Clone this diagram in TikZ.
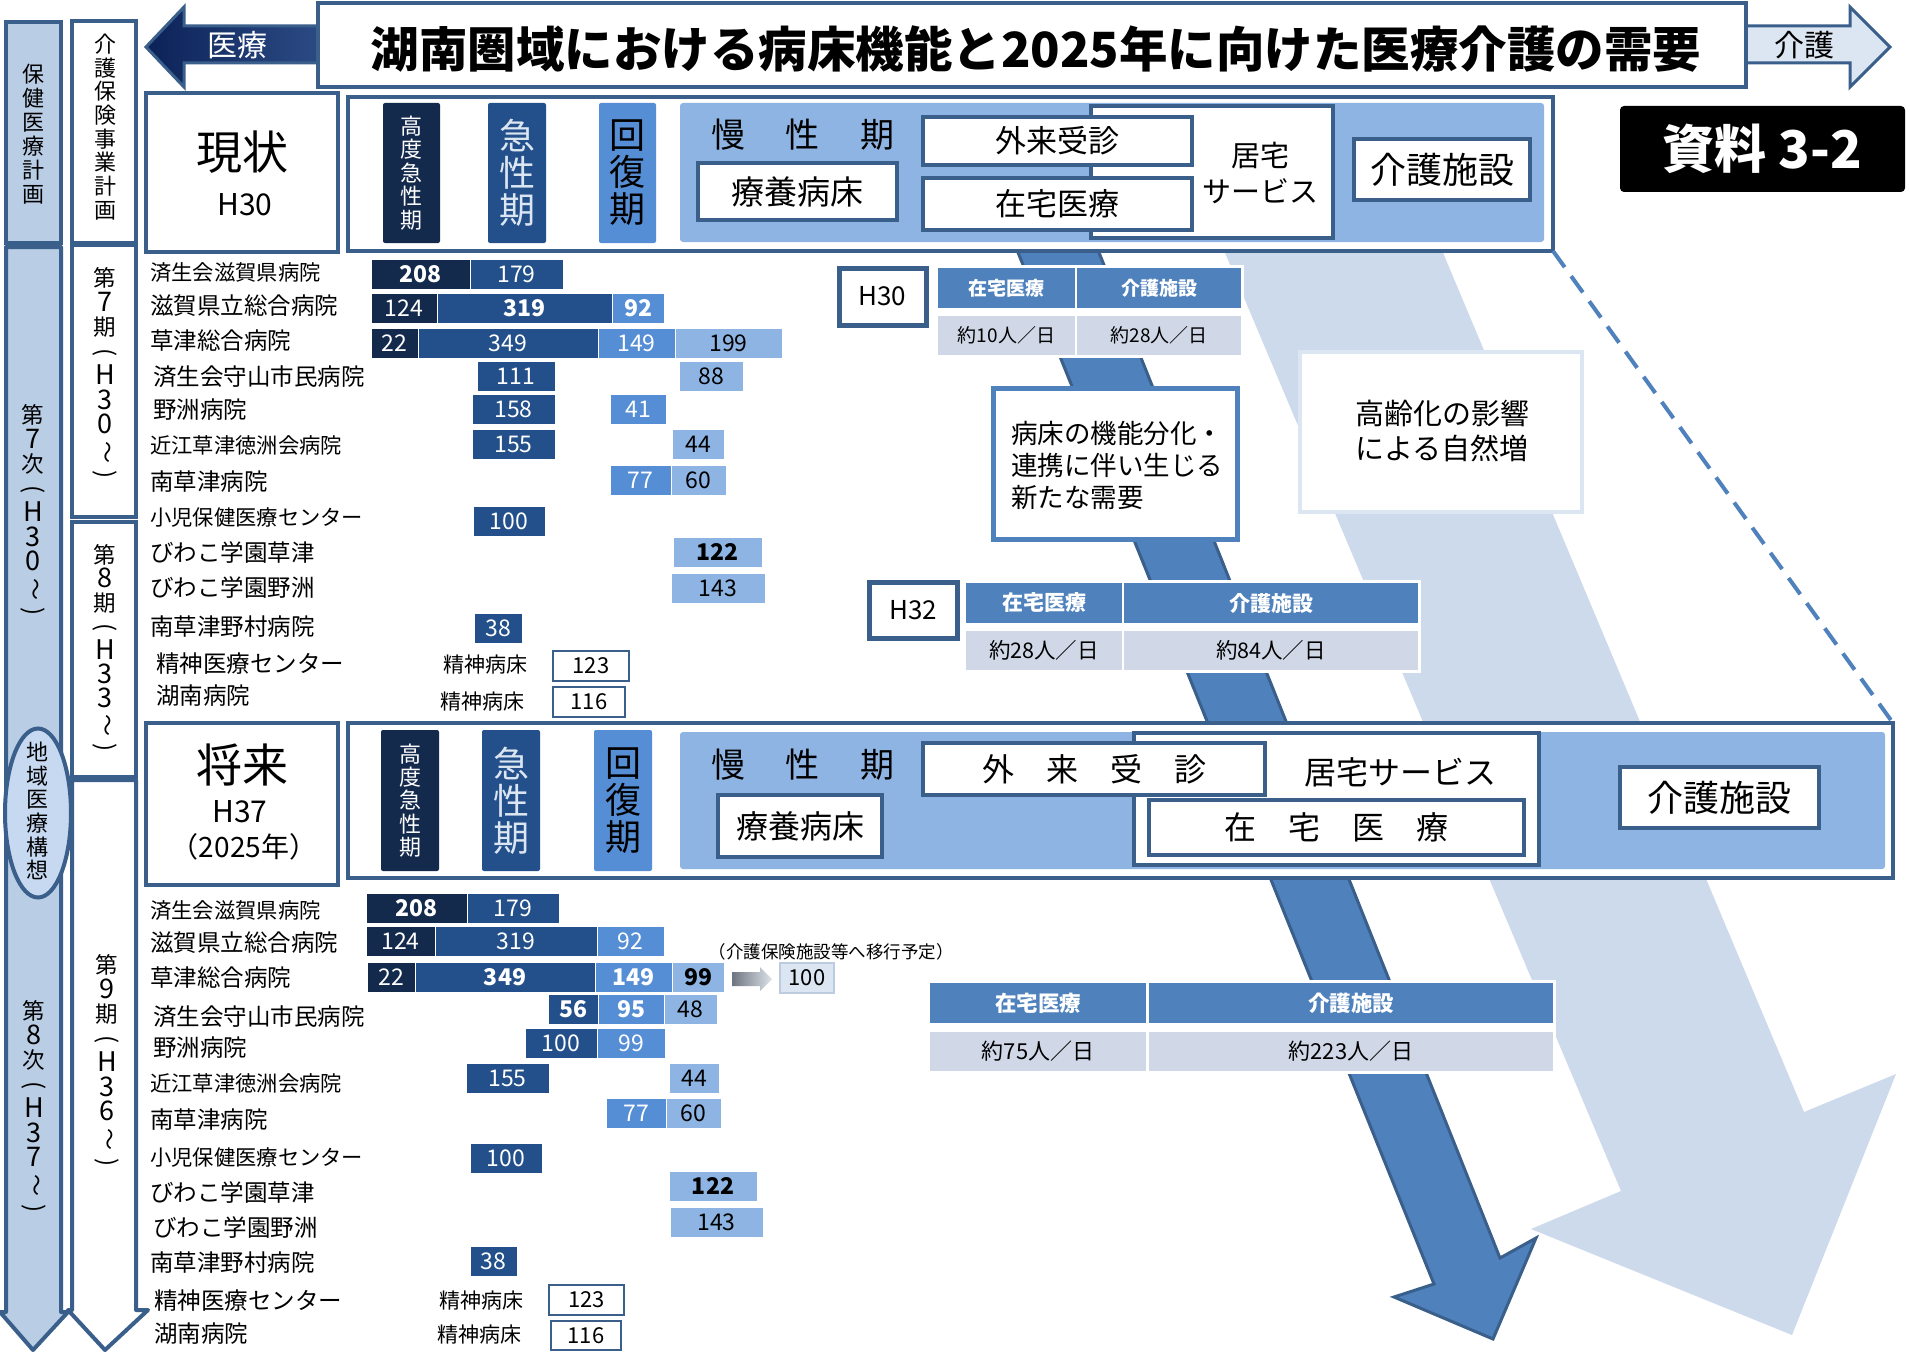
\documentclass[tikz,border=0pt]{standalone}
\usepackage{fontspec}
\usepackage{graphicx}
\setmainfont{Noto Sans CJK JP}
\usetikzlibrary{shapes.geometric}
\definecolor{bord}{HTML}{3A5F8B}
\definecolor{navy}{HTML}{142A4D}
\definecolor{acute}{HTML}{23508A}
\definecolor{recov}{HTML}{558ED5}
\definecolor{chron}{HTML}{8EB4E3}
\definecolor{colfill}{HTML}{B9CDE5}
\definecolor{thead}{HTML}{4F81BD}
\definecolor{tval}{HTML}{D0D8E8}
\definecolor{larrow}{HTML}{CCDAEB}
\definecolor{barrow}{HTML}{4F81BD}
\definecolor{paleb}{HTML}{DCE6F2}
\definecolor{ellfill}{HTML}{C6D9F1}
\definecolor{navyL}{HTML}{0B2257}
\definecolor{navyR}{HTML}{2B4A84}
\definecolor{gdark}{HTML}{6F7580}
\definecolor{glight}{HTML}{DDE3EA}
\newcommand\fs[2]{\fontsize{#1}{#2}\selectfont}
\newcommand\bx[7][]{\node[#1,minimum width={#5-#3},minimum height={#6-#4},inner sep=0pt,outer sep=0pt] (#2) at ({(#3+#5)/2},{(#4+#6)/2}) {#7};}
\newcommand\hb[7]{\node[barst,fill=#5,text=#6,minimum width={#3-#2}] (#1) at ({(#2+#3)/2},#4) {#7};}
\newcommand\vd[1]{{\fontsize{27}{23}\selectfont #1}}
\newcommand\vwv{\rotatebox[origin=c]{-90}{\fontsize{22}{23}\selectfont ～}}
\newcommand\vlp{\rotatebox[origin=c]{-90}{\fontsize{24}{23}\selectfont (}}
\newcommand\vrp{\rotatebox[origin=c]{-90}{\fontsize{24}{23}\selectfont )}}
\tikzset{
  barst/.style={minimum height=30pt,inner sep=0pt,outer sep=0pt,draw=white,line width=0.8pt,font=\fs{23}{24}},
  namest/.style={anchor=west,inner sep=0pt,font=\fs{23.5}{25}},
  namesm/.style={anchor=west,inner sep=0pt,font=\fs{21.3}{24}},
  frame/.style={draw=bord,line width=4.5pt,fill=white},
  wbox/.style={draw=bord,line width=4pt,fill=white},
  vtext/.style={align=center,inner sep=0pt,font=\fs{22.5}{24.5}},
  vbar/.style={align=center,rounded corners=2pt},
  th/.style={fill=thead,text=white},
  tv/.style={fill=tval,text=black},
  psy/.style={draw=bord,line width=2.5pt,fill=white,font=\fs{22}{24}},
  yr/.style={draw=bord,line width=5pt,fill=white},
}
\begin{document}
\begin{tikzpicture}[x=1pt,y=-1pt]
\useasboundingbox (0,0) rectangle (1910,1359);
\fill[white] (0,0) rectangle (1910,1359);
% ---------- big background arrows
\fill[larrow] (1223,248) -- (1621,1191) -- (1531,1229) -- (1792,1335) -- (1896,1074) -- (1804,1112) -- (1441,248) -- cycle;
\draw[fill=barrow,draw=bord,line width=3pt] (1015,245) -- (1434,1284) -- (1394,1297) -- (1493,1339) -- (1536,1238) -- (1500,1258) -- (1096,245) -- cycle;
% ---------- left columns
\bx[draw=bord,line width=4pt,fill=colfill]{c1a}{6}{22}{61}{243}{}
\node[vtext,font=\fs{22}{24}] (c1at) at (34,134) {保\\健\\医\\療\\計\\画};
\draw[draw=bord,line width=4pt,fill=colfill,line join=round] (6,247) -- (61,247) -- (61,1312) -- (68,1312) -- (33,1350) -- (0,1312) -- (6,1312) -- cycle;
\node[vtext] (c1bt) at (33,512) {第\\\vd{7}\\次\\\vlp\\\vd{H}\\\vd{3}\\\vd{0}\\\vwv\\\vrp};
\node[ellipse,draw=bord,line width=4pt,fill=ellfill,minimum width=66pt,minimum height=169pt,inner sep=0pt] (ell) at (38,813) {};
\node[vtext,font=\fs{22}{23.7}] (ellt) at (38,811) {地\\域\\医\\療\\構\\想};
\node[vtext] (c1ct) at (34,1108) {第\\\vd{8}\\次\\\vlp\\\vd{H}\\\vd{3}\\\vd{7}\\\vwv\\\vrp};
\bx[draw=bord,line width=4pt,fill=white]{c2a}{72}{21}{136}{243}{}
\node[vtext,font=\fs{22}{23.7}] (c2at) at (105,127) {介\\護\\保\\険\\事\\業\\計\\画};
\bx[draw=bord,line width=4pt,fill=white]{c2b}{72}{245}{136}{517}{}
\node[vtext] (c2bt) at (105,375) {第\\\vd{7}\\期\\\vlp\\\vd{H}\\\vd{3}\\\vd{0}\\\vwv\\\vrp};
\bx[draw=bord,line width=4pt,fill=white]{c2c}{72}{522}{136}{777}{}
\node[vtext,font=\fs{22.5}{24}] (c2ct) at (105,650) {第\\\vd{8}\\期\\\vlp\\\vd{H}\\\vd{3}\\\vd{3}\\\vwv\\\vrp};
\draw[draw=bord,line width=4pt,fill=white,line join=round] (72,780) -- (136,780) -- (136,1310) -- (148,1310) -- (105,1350) -- (68,1310) -- (72,1310) -- cycle;
\node[vtext] (c2dt) at (107,1062) {第\\\vd{9}\\期\\\vlp\\\vd{H}\\\vd{3}\\\vd{6}\\\vwv\\\vrp};
% ---------- header arrows and title
\shadedraw[left color=navyL,right color=navyR,draw=bord,line width=3pt] (318,26) -- (184,26) -- (184,7) -- (146,47) -- (184,87) -- (184,63) -- (318,63) -- cycle;
\node[text=white,font=\fs{30}{32}] (iryo) at (237,45) {医療};
\draw[fill=paleb,draw=bord,line width=3pt] (1746,26) -- (1850,26) -- (1850,7) -- (1890,47) -- (1850,87) -- (1850,63) -- (1746,63) -- cycle;
\node[font=\fs{30}{32}] (kaigo) at (1804,45) {介護};
\bx[draw=bord,line width=4.5pt,fill=white]{titlebox}{318}{3}{1746}{87}{}
\node[font=\fs{48.5}{50}\bfseries] (title) at (1036,49) {湖南圏域における病床機能と2025年に向けた医療介護の需要};
\bx[fill=black,rounded corners=4pt,text=white,font=\fs{52}{54}\bfseries]{shiryo}{1620}{106}{1905}{192}{資料 3-2}
% ---------- top panel
\bx[wbox]{now}{146}{93}{338}{252}{}
\node[font=\fs{46}{48}] (nowt) at (242,152) {現状};
\node[font=\fs{30}{32}] (nowh) at (245,205) {H30};
\bx[frame]{tp}{348}{97}{1553}{251}{}
\bx[fill=chron,rounded corners=3pt]{tpin}{680}{103}{1544}{242}{}
\bx[vbar,fill=navy,text=white,font=\fs{22}{23.4}]{tp1}{383}{103}{440}{243}{高\\度\\急\\性\\期}
\bx[vbar,fill=acute,text=paleb,font=\fs{36}{37}]{tp2}{488}{103}{546}{243}{急\\性\\期}
\bx[vbar,fill=recov,text=black,font=\fs{36}{37}]{tp3}{599}{103}{656}{243}{回\\復\\期}
\node[font=\fs{34}{36}] (tpm) at (803,135) {慢\hspace{41pt}性\hspace{41pt}期};
\bx[wbox,font=\fs{33}{35}]{tpr}{698}{163}{897}{220}{療養病床}
\bx[wbox]{tpk}{1091}{106}{1333}{238}{}
\bx[wbox,font=\fs{31}{33}]{tpg}{923}{117}{1192}{165}{外来受診}
\bx[wbox,font=\fs{31}{33}]{tpz}{923}{178}{1192}{230}{在宅医療}
\node[align=center,font=\fs{29}{36}] (tpkt) at (1260,173) {居宅\\サービス};
\bx[wbox,font=\fs{36}{38}]{tpc}{1354}{139}{1530}{200}{介護施設}
% ---------- bottom panel
\bx[wbox]{fut}{146}{723}{338}{885}{}
\node[font=\fs{46}{48}] (futt) at (242,765) {将来};
\node[font=\fs{30}{32}] (futh) at (240,812) {H37};
\node[font=\fs{28}{30}] (futy) at (244,847) {（2025年）};
\bx[frame]{lp}{348}{723}{1893}{878}{}
\bx[fill=chron,rounded corners=3pt]{lpin}{680}{732}{1885}{869}{}
\bx[vbar,fill=navy,text=white,font=\fs{22}{23.4}]{lp1}{381}{730}{439}{871}{高\\度\\急\\性\\期}
\bx[vbar,fill=acute,text=paleb,font=\fs{36}{37}]{lp2}{482}{730}{540}{871}{急\\性\\期}
\bx[vbar,fill=recov,text=black,font=\fs{36}{37}]{lp3}{594}{730}{652}{871}{回\\復\\期}
\node[font=\fs{34}{36}] (lpm) at (803,765) {慢\hspace{41pt}性\hspace{41pt}期};
\bx[wbox,font=\fs{32}{34}]{lpr}{718}{795}{882}{857}{療養病床}
\bx[wbox]{lpk}{1134}{733}{1539}{865}{}
\bx[wbox,font=\fs{32}{34}]{lpg}{923}{743}{1265}{795}{外　来　受　診}
\node[font=\fs{32}{34}] (lpkt) at (1400,772) {居宅サービス};
\bx[wbox,font=\fs{32}{34}]{lpz}{1149}{800}{1524}{855}{在　宅　医　療}
\bx[wbox,font=\fs{36}{38}]{lpc}{1620}{767}{1819}{828}{介護施設}
\draw[barrow,line width=4pt,dash pattern=on 20pt off 11pt] (tp.south east) -- (lp.north east);
% ---------- H30 table
\bx[yr,font=\fs{26}{28}]{h30}{839}{268}{926}{325}{H30}
\bx[fill=white]{t1bg}{935}{265}{1244}{358}{}
\bx[th,font=\fs{19}{20}\bfseries]{t1h1}{938}{268}{1075}{308}{在宅医療}
\bx[th,font=\fs{19}{20}\bfseries]{t1h2}{1077}{268}{1241}{308}{介護施設}
\bx[tv,font=\fs{19}{20}]{t1v1}{938}{316}{1075}{355}{約10人／日}
\bx[tv,font=\fs{19}{20}]{t1v2}{1077}{316}{1241}{355}{約28人／日}
% ---------- boxes
\bx[draw=barrow,line width=5pt,fill=white]{need}{993}{388}{1237}{539}{}
\node[anchor=west,align=left,inner sep=0pt,font=\fs{26.5}{32}] (needt) at (1011,465) {病床の機能分化・\\連携に伴い生じる\\新たな需要};
\bx[draw=paleb,line width=4pt,fill=white]{aging}{1300}{352}{1582}{512}{}
\node[align=left,inner sep=0pt,font=\fs{29}{35}] (agingt) at (1442,431) {高齢化の影響\\による自然増};
% ---------- H32 table
\bx[yr,font=\fs{26}{28}]{h32}{869}{582}{957}{638}{H32}
\bx[fill=white]{t2bg}{963}{580}{1421}{673}{}
\bx[th,font=\fs{21}{22}\bfseries]{t2h1}{966}{583}{1122}{623}{在宅医療}
\bx[th,font=\fs{21}{22}\bfseries]{t2h2}{1124}{583}{1418}{623}{介護施設}
\bx[tv,font=\fs{21.5}{22}]{t2v1}{966}{631}{1122}{670}{約28人／日}
\bx[tv,font=\fs{21.5}{22}]{t2v2}{1124}{631}{1418}{670}{約84人／日}
% ---------- lower table
\bx[fill=white]{t3bg}{927}{980}{1556}{1074}{}
\bx[th,font=\fs{21.5}{22}\bfseries]{t3h1}{930}{983}{1146}{1023}{在宅医療}
\bx[th,font=\fs{21.5}{22}\bfseries]{t3h2}{1149}{983}{1553}{1023}{介護施設}
\bx[tv,font=\fs{22}{23}]{t3v1}{930}{1032}{1146}{1071}{約75人／日}
\bx[tv,font=\fs{22}{23}]{t3v2}{1149}{1032}{1553}{1071}{約223人／日}
% ---------- top hospitals
\node[namesm] (a1) at (150,273) {済生会滋賀県病院};
\hb{a1a}{371}{470}{274}{navy}{white}{\bfseries 208}
\hb{a1b}{470}{563}{274}{acute}{white}{179}
\node[namest] (a2) at (150,306) {滋賀県立総合病院};
\hb{a2a}{371}{437}{308}{navy}{white}{124}
\hb{a2b}{437}{612}{308}{acute}{white}{\bfseries 319}
\hb{a2c}{612}{664}{308}{recov}{white}{\bfseries 92}
\node[namest] (a3) at (150,341) {草津総合病院};
\hb{a3a}{371}{418}{343}{navy}{white}{22}
\hb{a3b}{418}{598}{343}{acute}{white}{349}
\hb{a3c}{598}{675}{343}{recov}{white}{149}
\hb{a3d}{675}{782}{343}{chron}{black}{199}
\node[namest] (a4) at (153,377) {済生会守山市民病院};
\hb{a4a}{477}{555}{376}{acute}{white}{111}
\hb{a4b}{679}{743}{376}{chron}{black}{88}
\node[namest] (a5) at (153,410) {野洲病院};
\hb{a5a}{472}{555}{409}{acute}{white}{158}
\hb{a5b}{610}{666}{409}{recov}{white}{41}
\node[namesm] (a6) at (150,445) {近江草津徳洲会病院};
\hb{a6a}{472}{555}{444}{acute}{white}{155}
\hb{a6b}{672}{724}{444}{chron}{black}{44}
\node[namest] (a7) at (150,482) {南草津病院};
\hb{a7a}{610}{671}{480}{recov}{white}{77}
\hb{a7b}{671}{726}{480}{chron}{black}{60}
\node[namesm] (a8) at (150,517) {小児保健医療センター};
\hb{a8a}{473}{545}{521}{acute}{white}{100}
\node[namest] (a9) at (150,553) {びわこ学園草津};
\hb{a9a}{673}{762}{552}{chron}{black}{\bfseries 122}
\node[namest] (a10) at (150,588) {びわこ学園野洲};
\hb{a10a}{671}{765}{588}{chron}{black}{143}
\node[namest] (a11) at (150,627) {南草津野村病院};
\hb{a11a}{474}{522}{628}{acute}{white}{38}
\node[namest] (a12) at (156,664) {精神医療センター};
\node[font=\fs{21}{22}] (a12l) at (485,665) {精神病床};
\bx[psy]{a12a}{553}{651}{629}{681}{123}
\node[namest] (a13) at (156,696) {湖南病院};
\node[font=\fs{21}{22}] (a13l) at (482,702) {精神病床};
\bx[psy]{a13a}{553}{687}{625}{717}{116}
% ---------- bottom hospitals
\node[namesm] (b1) at (150,910) {済生会滋賀県病院};
\hb{b1a}{366}{467}{908}{navy}{white}{\bfseries 208}
\hb{b1b}{467}{559}{908}{acute}{white}{179}
\node[namest] (b2) at (150,943) {滋賀県立総合病院};
\hb{b2a}{366}{435}{941}{navy}{white}{124}
\hb{b2b}{435}{597}{941}{acute}{white}{319}
\hb{b2c}{597}{664}{941}{recov}{white}{92}
\node[namest] (b3) at (150,978) {草津総合病院};
\hb{b3a}{367}{415}{977}{navy}{white}{22}
\hb{b3b}{415}{595}{977}{acute}{white}{\bfseries 349}
\hb{b3c}{595}{672}{977}{recov}{white}{\bfseries 149}
\hb{b3d}{672}{724}{977}{chron}{black}{\bfseries 99}
\shade[left color=gdark,right color=glight] (732,972) -- (760,972) -- (760,967) -- (772,979) -- (760,991) -- (760,986) -- (732,986) -- cycle;
\bx[fill=paleb,draw=paleb!80!bord,line width=1.5pt,font=\fs{22}{23}]{b3m}{780}{963}{834}{993}{100}
\node[font=\fs{17.5}{19}] (b3n) at (831,952) {（介護保険施設等へ移行予定）};
\node[namest] (b4) at (153,1017) {済生会守山市民病院};
\hb{b4a}{548}{598}{1009}{acute}{white}{\bfseries 56}
\hb{b4b}{598}{664}{1009}{recov}{white}{\bfseries 95}
\hb{b4c}{664}{717}{1009}{chron}{black}{48}
\node[namest] (b5) at (153,1048) {野洲病院};
\hb{b5a}{525}{597}{1043}{acute}{white}{100}
\hb{b5b}{597}{665}{1043}{recov}{white}{99}
\node[namesm] (b6) at (150,1083) {近江草津徳洲会病院};
\hb{b6a}{466}{549}{1078}{acute}{white}{155}
\hb{b6b}{669}{719}{1078}{chron}{black}{44}
\node[namest] (b7) at (150,1120) {南草津病院};
\hb{b7a}{606}{666}{1113}{recov}{white}{77}
\hb{b7b}{666}{721}{1113}{chron}{black}{60}
\node[namesm] (b8) at (150,1157) {小児保健医療センター};
\hb{b8a}{470}{542}{1158}{acute}{white}{100}
\node[namest] (b9) at (150,1193) {びわこ学園草津};
\hb{b9a}{669}{757}{1186}{chron}{black}{\bfseries 122}
\node[namest] (b10) at (153,1228) {びわこ学園野洲};
\hb{b10a}{670}{763}{1222}{chron}{black}{143}
\node[namest] (b11) at (150,1263) {南草津野村病院};
\hb{b11a}{470}{517}{1261}{acute}{white}{38}
\node[namest] (b12) at (154,1301) {精神医療センター};
\node[font=\fs{21}{22}] (b12l) at (481,1301) {精神病床};
\bx[psy]{b12a}{549}{1285}{624}{1315}{123}
\node[namest] (b13) at (154,1334) {湖南病院};
\node[font=\fs{21}{22}] (b13l) at (479,1335) {精神病床};
\bx[psy]{b13a}{551}{1321}{621}{1350}{116}
\end{tikzpicture}
\end{document}
